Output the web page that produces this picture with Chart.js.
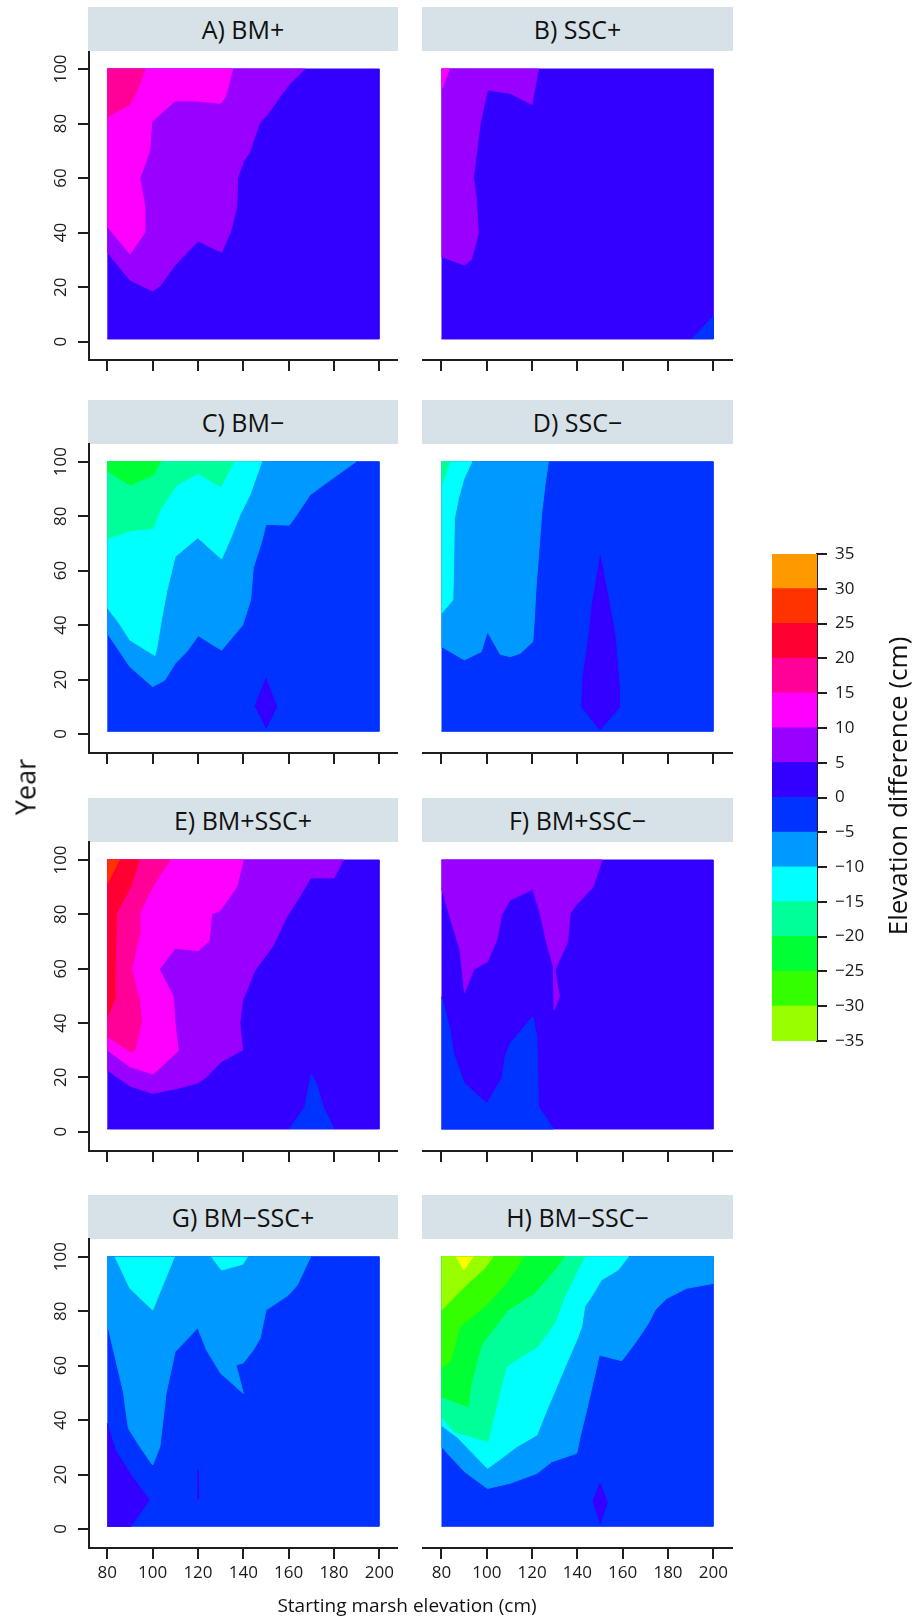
<!DOCTYPE html>
<html>
<head>
<meta charset="utf-8">
<script src="https://cdn.jsdelivr.net/npm/chart.js@4.4.1/dist/chart.umd.min.js"></script>
<style>
  html,body{margin:0;padding:0;background:#fff;}
  body{width:919px;height:1623px;position:relative;overflow:hidden;font-family:"Open Sans",sans-serif;color:#111;}
  canvas{position:absolute;}
  .strip{position:absolute;height:44px;line-height:44px;background:#d6e2e8;text-align:center;font-size:25px;color:#111;}
  .lbl{position:absolute;white-space:nowrap;color:#111;}
</style>
</head>
<body>
<script>
// ---------------- DATA ----------------
const xTicks = [80, 100, 120, 140, 160, 180, 200];
const yTicks = [0, 20, 40, 60, 80, 100];
const levels = [-35, -30, -25, -20, -15, -10, -5, 0, 5, 10, 15, 20, 25, 30, 35];
const bandColors = ['#99ff00','#33ff00','#00ff33','#00ff99','#00ffff','#0099ff','#0033ff',
                    '#3300ff','#9900ff','#ff00ff','#ff0099','#ff0033','#ff3300','#ff9900'];
const belowRangeColor = '#ffff00';
const titles = ['A) BM+', 'B) SSC+', 'C) BM\u2212', 'D) SSC\u2212',
                'E) BM+SSC+', 'F) BM+SSC\u2212', 'G) BM\u2212SSC+', 'H) BM\u2212SSC\u2212'];

// domain of the simulations: starting elevation 80-200 cm, years 1-100
const domain = [[80,1],[200,1],[200,100],[80,100]];

// contour regions: [lower level of band, polygon in (elevation, year)]
const A_r5  = [[80,32.8],[90,22.6],[100,18.6],[103.2,20.4],[109.9,28.1],[113.5,31.2],[120.1,36.9],[130.4,32.8],[134.4,40.3],[137.1,49.5],[137.5,59.9],[140,66],[142.9,69.7],[147.1,80.1],[151,83.7],[156.2,89.9],[160.3,94.4],[167.2,100],[80,100]];
const A_r10 = [[80,42.2],[90,32.2],[96.6,40.1],[96.6,49.5],[94.4,59.9],[98.8,70.3],[99.6,80.7],[109.9,88.3],[119.4,88.3],[130,87.4],[132.2,89.9],[135.3,100],[80,100]];
const A_r15 = [[80,82.5],[90,87],[93.2,92.3],[96.6,100],[80,100]];

const B_r5  = [[80,31.2],[90.1,28.1],[93.1,30],[96.3,39.7],[95.3,53.2],[94.1,59.9],[97.1,80.1],[100.3,92.3],[110.3,91.1],[119.9,87],[122.8,100],[80,100]];
const B_r10 = [[80,92.3],[83.5,100],[80,100]];
const B_rm5 = [[190.4,1],[200,9.2],[200,1]];

const C_r0   = [[145.1,10],[150,20.4],[154.7,10],[150,2]];
const C_rm10 = [[80,37],[90,24.7],[100,17.4],[105.4,19.8],[109.9,25.9],[115,30.2],[120.1,36.1],[130.4,30.8],[139.7,40],[143.2,49.2],[144.4,61.1],[148.1,70.6],[150,77],[160.3,76.7],[163.5,80.4],[169.4,87.8],[175.3,91.4],[189.7,100],[80,100]];
const C_rm15 = [[80,46.4],[85.3,40.6],[90,34.5],[101,28.8],[101.8,31.5],[104,42.5],[106.2,52.3],[109.9,65.1],[119.9,72.1],[130.4,64.3],[134.4,71.8],[138.5,80.4],[142.9,87.8],[148.1,100],[80,100]];
const C_rm20 = [[80,71.8],[90.7,74.7],[100.3,75.5],[103.2,82.3],[110.6,91.4],[120.1,95.7],[130,90.8],[135.9,100],[80,100]];
const C_rm25 = [[80,96.6],[90,91.4],[100.3,95.1],[103.5,100],[80,100]];

const D_r0   = [[150,65.7],[153.7,49.8],[156.6,36.4],[158.5,18],[158.5,9.7],[150,1.5],[141.9,10],[142.4,20.4],[145.3,37.6],[146.8,49.8]];
const D_rm10 = [[80,32.1],[90.1,27.2],[97.5,30.2],[100.3,37.6],[105.9,29.3],[110.3,28.4],[114.7,29.6],[120.3,33.9],[121,42.5],[121.8,54.7],[123.2,69.4],[124.3,81.6],[125.7,91.4],[127.2,100],[80,100]];
const D_rm15 = [[80,44.3],[85,49.2],[85.3,60.8],[85.7,79.2],[87.5,86.5],[89.7,93.3],[93.4,100],[80,100]];
const D_rm20 = [[80,91.4],[83.8,100],[80,100]];

const E_rm5 = [[160.3,1],[167.2,9.2],[170,21.2],[172.4,17.2],[175.3,9.2],[180,1]];
const E_r5  = [[80,22.7],[90,16.8],[100,14.1],[111.3,16],[120.1,18],[123.8,20.2],[130.4,25.8],[139.7,30.1],[138.5,39.9],[139.7,48.3],[145.1,59.3],[153.2,68.5],[159.1,79],[164.3,85.8],[169.7,93.4],[180,93.4],[184.1,100],[80,100]];
const E_r10 = [[80,30.1],[90,23.9],[100.3,21.2],[111.3,29.8],[109.9,39.9],[109.1,49.7],[102.9,59.8],[109.9,67.5],[120.1,66.6],[125,70.3],[126,80.1],[129.7,81.3],[134.1,86.5],[137.1,90.2],[140,100],[80,100]];
const E_r15 = [[80,35],[90.3,29.4],[92.2,30.1],[95.1,40.5],[94.1,48.5],[90.7,59.8],[94.1,72.4],[94.4,80.4],[97.4,85.9],[101.8,92.6],[107.6,100],[80,100]];
const E_r20 = [[80,42.3],[83.8,49.7],[83.4,59.5],[84.1,80.4],[90,89.6],[94.1,100],[80,100]];
const E_r25 = [[80,91.4],[85.3,100],[80,100]];

const F_rm5 = [[80,49.7],[83.8,37.4],[85.3,28.8],[90.1,17.8],[100,10.4],[106.6,19.6],[108.1,27.6],[110.3,32.5],[120.3,42.3],[122.1,35],[122.8,9.2],[129.4,1],[80,1]];
const F_r5  = [[80,89.6],[84.6,76.7],[88.2,66.9],[90.1,51.2],[94.4,59.8],[100.3,62.6],[104.4,70.6],[106.6,79.8],[110.3,85.3],[120.3,89.2],[123.5,80.4],[126.5,69.3],[129.4,60.7],[129.7,44.8],[132.1,49.7],[130.1,59.5],[135.7,69.9],[136.8,80.4],[139.4,83.4],[146.8,89.9],[150.9,100],[80,100]];

const G_r0   = [[80,38.8],[83.4,29],[90,20.4],[98.5,10.6],[90.4,1],[80,1]];
const G_r0b  = [[119.6,11],[120,21.7],[120.4,11]];
const G_rm10 = [[80,75.5],[83.4,63.3],[87.1,50.4],[89.3,37],[94.4,30.2],[100,23.5],[103.2,30.2],[105.9,49.8],[109.9,65.1],[113.5,68.2],[119.9,73.9],[123.8,65.7],[130,57.2],[140,49.8],[136.8,60.2],[140,61],[144.4,65.7],[147.4,70],[150,80.4],[159.9,85.9],[163.8,89.6],[169.7,100],[80,100]];
const G_rm15a = [[83.4,100],[90,88.4],[100,80.4],[109.6,100]];
const G_rm15b = [[126,100],[130.4,95.1],[139.7,97.2],[141.8,100]];

const H_r0   = [[146.8,9.8],[150,16.8],[153.2,9.8],[150,1.8]];
const H_rm10 = [[80,30.2],[90.1,21.1],[100.3,14.9],[110.3,16.8],[122.1,20.4],[128.7,24.7],[139.7,27.8],[141.2,33.9],[144.1,43.7],[146.8,53.5],[149.7,63.9],[159.6,61.8],[165.4,68.2],[171.3,75.5],[174.3,80.4],[179.4,84.7],[188.2,88.4],[200,90.2],[200,100],[80,100]];
const H_rm15 = [[80,38],[87.3,33.5],[90.1,31],[100.3,22.3],[104.4,24.7],[113.2,30.2],[122.1,34.5],[126.5,43.7],[130.9,52.3],[134.6,59.6],[139.7,69.4],[141.9,74.3],[143.2,81.6],[147.1,86.5],[150.5,91.4],[157.9,95.1],[162.5,100],[80,100]];
const H_rm20 = [[80,41.2],[85.8,35.7],[100.5,32.1],[104.2,44.9],[108.6,59.6],[115.2,63.3],[122.6,67],[129.9,75.5],[134.3,85.3],[140.2,95.1],[143.2,100],[80,100]];
const H_rm25 = [[80,48.6],[91.7,44.9],[93.1,53.5],[97.6,67.6],[109.3,80.4],[121.1,86.6],[129.9,95.1],[134.3,100],[80,100]];
const H_rm30 = [[80,59],[84.3,62.1],[88,74.3],[94.6,78.6],[101.3,83.5],[108.6,90.2],[113.7,96.3],[116,100],[80,100]];
const H_rm35 = [[80,80.4],[85.8,85.3],[92.4,90.8],[99,95.7],[102.7,100],[80,100]];
const H_rm40 = [[86.5,100],[89.9,95.1],[93.9,100]];

// painter order per panel: [band lower level, polygon]
const panels = [
  [[0,domain],[5,A_r5],[10,A_r10],[15,A_r15]],
  [[0,domain],[5,B_r5],[10,B_r10],[-5,B_rm5]],
  [[-5,domain],[0,C_r0],[-10,C_rm10],[-15,C_rm15],[-20,C_rm20],[-25,C_rm25]],
  [[-5,domain],[0,D_r0],[-10,D_rm10],[-15,D_rm15],[-20,D_rm20]],
  [[0,domain],[-5,E_rm5],[5,E_r5],[10,E_r10],[15,E_r15],[20,E_r20],[25,E_r25]],
  [[0,domain],[-5,F_rm5],[5,F_r5]],
  [[-5,domain],[0,G_r0],[0,G_r0b],[-10,G_rm10],[-15,G_rm15a],[-15,G_rm15b]],
  [[-5,domain],[0,H_r0],[-10,H_rm10],[-15,H_rm15],[-20,H_rm20],[-25,H_rm25],[-30,H_rm30],[-35,H_rm35],[-40,H_rm40]]
];

// ---------------- LAYOUT ----------------
const AX = '#1e1e1e';
const COLS = [
  {left:89,  right:397, x80:107.3, x200:379.3, yAxis:true,  strip:[88,398]},
  {left:423, right:732, x80:441.5, x200:713.3, yAxis:false, strip:[422,733]}
];
const ROWS = [
  {top:52,   bottom:360,  y100:69,     y0:341.7,  strip:7},
  {top:444,  bottom:753,  y100:461.7,  y0:734,    strip:400},
  {top:842,  bottom:1151, y100:860,    y0:1131.7, strip:798},
  {top:1239, bottom:1548, y100:1256.7, y0:1529,   strip:1195}
];

Chart.defaults.font.family = '"Open Sans", sans-serif';
Chart.defaults.font.size = 17;
Chart.defaults.color = '#1a1a1a';

function colorFor(lo){
  if (lo < levels[0]) return belowRangeColor;
  return bandColors[levels.indexOf(lo)];
}

const rotYLabels = {
  id: 'rotYLabels',
  afterDraw(chart, args, opts){
    if (!opts.show) return;
    const s = chart.scales.y, ctx = chart.ctx;
    ctx.save();
    ctx.font = '17px "Open Sans", sans-serif';
    ctx.fillStyle = '#1a1a1a';
    ctx.textAlign = 'center';
    ctx.textBaseline = 'middle';
    s.ticks.forEach(t => {
      const y = s.getPixelForValue(t.value);
      ctx.save();
      ctx.translate(opts.x, y);
      ctx.rotate(-Math.PI/2);
      ctx.fillText(String(t.value), 0, 0);
      ctx.restore();
    });
    ctx.restore();
  }
};

function addDiv(cls, text, css){
  const d = document.createElement('div');
  d.className = cls; d.textContent = text;
  Object.assign(d.style, css);
  document.body.appendChild(d);
  return d;
}

function polyDataset(pts, c, order){
  return {
    data: pts.map(p => ({x: p[0], y: p[1]})),
    showLine: true, fill: 'shape',
    backgroundColor: c, borderColor: c, borderWidth: 1,
    pointRadius: 0, pointHoverRadius: 0, tension: 0,
    order: order
  };
}

panels.forEach((regions, i) => {
  const col = COLS[i % 2], row = ROWS[Math.floor(i / 2)];
  const isBottom = Math.floor(i / 2) === ROWS.length - 1;

  addDiv('strip', titles[i], {left: col.strip[0] + 'px', width: (col.strip[1] - col.strip[0]) + 'px', top: row.strip + 'px'});

  const padL = col.yAxis ? 0 : 10, yAxisW = col.yAxis ? 60 : 0;
  const padT = 8, padR = 8;
  const cLeft = col.left - yAxisW - padL;
  const cTop = row.top - padT;
  const xAxisH = isBottom ? 48 : 14;
  const cW = col.right - cLeft + padR;
  const cH = row.bottom - cTop + xAxisH;

  const cv = document.createElement('canvas');
  cv.width = cW; cv.height = cH;
  cv.style.left = cLeft + 'px'; cv.style.top = cTop + 'px';
  cv.style.width = cW + 'px'; cv.style.height = cH + 'px';
  document.body.appendChild(cv);

  const a = (col.x200 - col.x80) / 120;
  const xmin = 80 - (col.x80 - col.left) / a, xmax = 200 + (col.right - col.x200) / a;
  const b = (row.y0 - row.y100) / 100;
  const ymin = -(row.bottom - row.y0) / b, ymax = 100 + (row.y100 - row.top) / b;

  const N = regions.length;
  const datasets = regions.map(([lo, pts], k) => polyDataset(pts, colorFor(lo), N - k));

  new Chart(cv, {
    type: 'scatter',
    data: {datasets},
    options: {
      responsive: false, animation: false, events: [],
      layout: {padding: {left: padL, top: padT, right: padR, bottom: 0}},
      plugins: {legend: {display: false}, tooltip: {enabled: false},
                rotYLabels: {show: col.yAxis, x: 61 - cLeft}},
      scales: {
        x: {
          type: 'linear', min: xmin, max: xmax,
          afterBuildTicks: s => { s.ticks = xTicks.map(v => ({value: v})); },
          afterFit: s => { s.height = xAxisH; },
          border: {display: true, color: AX, width: 2},
          grid: {display: true, drawOnChartArea: false, drawTicks: true, tickLength: 11, color: AX, lineWidth: 2},
          ticks: {display: isBottom, padding: 4, maxRotation: 0, autoSkip: false, color: '#1a1a1a'}
        },
        y: {
          type: 'linear', display: col.yAxis, min: ymin, max: ymax,
          afterBuildTicks: s => { s.ticks = yTicks.map(v => ({value: v})); },
          afterFit: s => { s.width = yAxisW; },
          border: {display: true, color: AX, width: 2},
          grid: {display: true, drawOnChartArea: false, drawTicks: true, tickLength: 11, color: AX, lineWidth: 2},
          ticks: {display: false}
        }
      }
    },
    plugins: [rotYLabels]
  });
});

// axis titles
addDiv('lbl', 'Year', {left: '25px', top: '787px', fontSize: '27px', transform: 'translate(-50%,-50%) rotate(-90deg)'});
addDiv('lbl', 'Starting marsh elevation (cm)', {left: '407px', top: '1605px', fontSize: '19px', transform: 'translate(-50%,-50%)'});

// ---------------- COLOR BAR ----------------
const CB = {left: 762, top: 534, width: 157, height: 527, padL: 10, padT: 20, padB: 20, axisW: 102};
const cbTitle = {
  id: 'cbTitle',
  afterDraw(chart){
    const ctx = chart.ctx;
    ctx.save();
    ctx.font = '26px "Open Sans", sans-serif';
    ctx.fillStyle = '#111';
    ctx.textAlign = 'center'; ctx.textBaseline = 'middle';
    ctx.translate(900 - CB.left, 786 - CB.top);
    ctx.rotate(-Math.PI/2);
    ctx.fillText('Elevation difference (cm)', 0, 0);
    ctx.restore();
  }
};
const cb = document.createElement('canvas');
cb.width = CB.width; cb.height = CB.height;
Object.assign(cb.style, {left: CB.left + 'px', top: CB.top + 'px', width: CB.width + 'px', height: CB.height + 'px'});
document.body.appendChild(cb);
new Chart(cb, {
  type: 'scatter',
  data: {
    datasets: bandColors.map((c, i) =>
      polyDataset([[0, levels[i]], [1, levels[i]], [1, levels[i + 1]], [0, levels[i + 1]]], c, i))
  },
  options: {
    responsive: false, animation: false, events: [],
    layout: {padding: {left: CB.padL, top: CB.padT, right: 0, bottom: CB.padB}},
    plugins: {legend: {display: false}, tooltip: {enabled: false}},
    scales: {
      x: {type: 'linear', display: false, min: 0, max: 1},
      y: {
        type: 'linear', position: 'right', min: -35, max: 35,
        afterBuildTicks: s => { s.ticks = levels.map(v => ({value: v})); },
        afterFit: s => { s.width = CB.axisW; },
        border: {display: true, color: AX, width: 2},
        grid: {display: true, drawOnChartArea: false, drawTicks: true, tickLength: 10, color: AX, lineWidth: 2},
        ticks: {padding: 8, color: '#1a1a1a', callback: v => v < 0 ? '\u2212' + Math.abs(v) : String(v)}
      }
    }
  },
  plugins: [cbTitle]
});
</script>
</body>
</html>
